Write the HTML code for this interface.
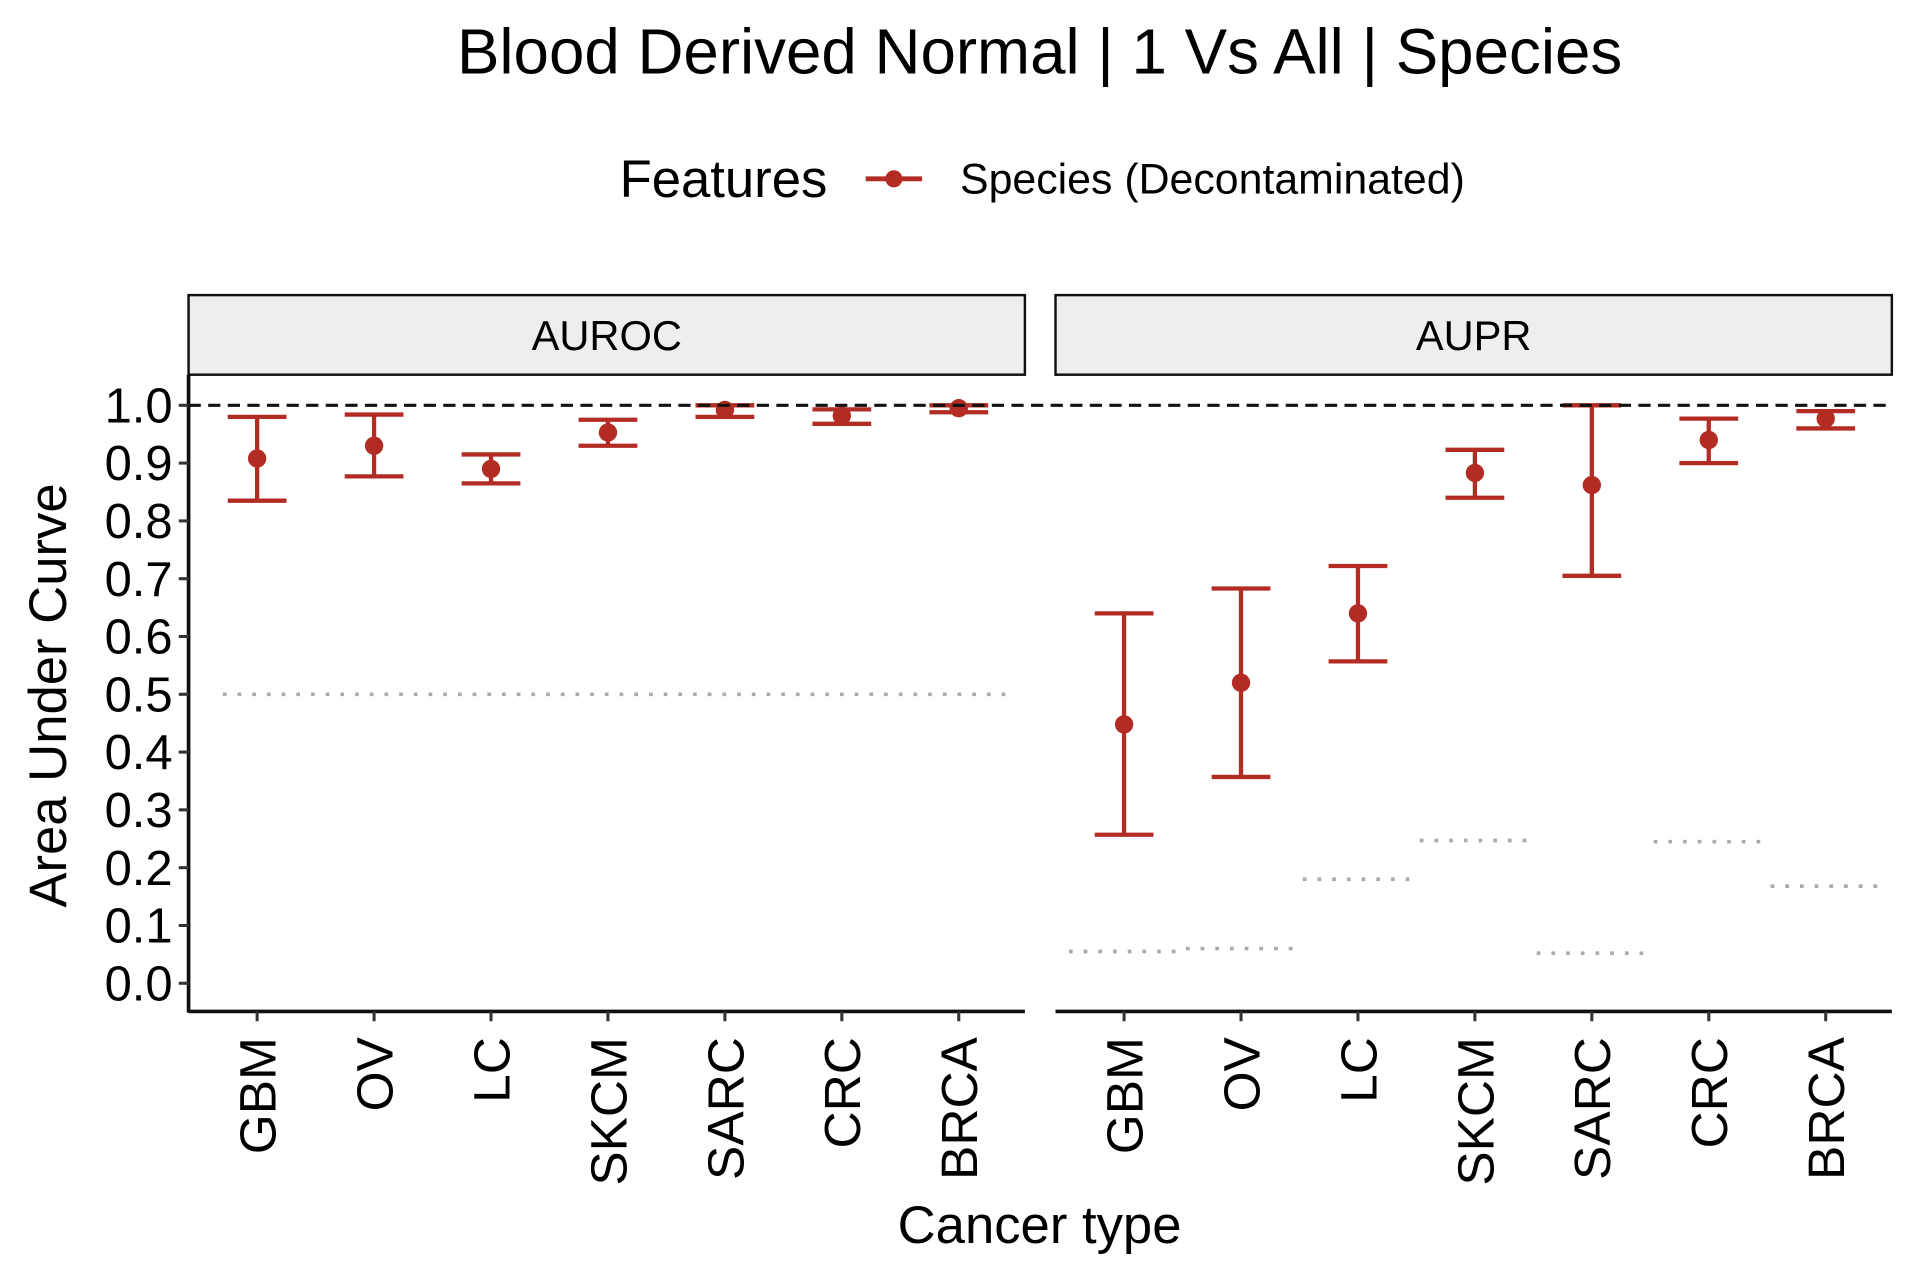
<!DOCTYPE html>
<html><head><meta charset="utf-8"><style>body{margin:0;background:#fff}svg{display:block}text{font-family:"Liberation Sans",Arial,sans-serif}</style></head>
<body>
<svg id="chart" width="1920" height="1280" viewBox="0 0 1568 1045.33" xmlns="http://www.w3.org/2000/svg">
<text x="849" y="60" font-size="52" text-anchor="middle">Blood Derived Normal | 1 Vs All | Species</text>
<g>
<text x="506" y="161" font-size="43">Features</text>
<line x1="707" y1="146" x2="753" y2="146" stroke="#B22C24" stroke-width="4"/>
<circle cx="730" cy="146" r="7" fill="#B22C24"/>
<text x="784" y="158" font-size="35">Species (Decontaminated)</text>
</g>
<g id="panels"></g>
<text transform="translate(54,568) rotate(-90)" font-size="43" text-anchor="middle">Area Under Curve</text>
<text x="849" y="1015" font-size="43" text-anchor="middle">Cancer type</text>
</svg>
<script>
const categories = ["GBM","OV","LC","SKCM","SARC","CRC","BRCA"];
const panelNames = ["AUROC","AUPR"];
const aurocMean = [0.908,0.930,0.890,0.953,0.992,0.982,0.995];
const aurocLow  = [0.835,0.877,0.865,0.930,0.980,0.968,0.988];
const aurocHigh = [0.980,0.984,0.915,0.975,1.000,0.993,1.000];
const auprMean = [0.448,0.520,0.640,0.883,0.862,0.940,0.977];
const auprLow  = [0.257,0.357,0.557,0.840,0.705,0.900,0.960];
const auprHigh = [0.640,0.683,0.722,0.923,1.000,0.977,0.990];
const aurocBaseline = [0.5,0.5,0.5,0.5,0.5,0.5,0.5];
const auprBaseline = [0.055,0.060,0.180,0.247,0.052,0.245,0.168];
const yTicks = [0,0.1,0.2,0.3,0.4,0.5,0.6,0.7,0.8,0.9,1.0];

const NS="http://www.w3.org/2000/svg";
const g=document.getElementById('panels');
const RED="#B22C24";
function el(tag,attrs,parent){const e=document.createElementNS(NS,tag);for(const k in attrs)e.setAttribute(k,attrs[k]);(parent||g).appendChild(e);return e;}
const y=v=>803-(v)*472;
const panelX=[154,862], panelW=683;
const x=(p,i)=>panelX[p]+56+i*95.5;
const series=[[aurocMean,aurocLow,aurocHigh,aurocBaseline],[auprMean,auprLow,auprHigh,auprBaseline]];

for(let p=0;p<2;p++){
  const px=panelX[p];
  const strip=el('rect',{x:px,y:241,width:panelW,height:65,fill:"#EEEEEE",stroke:"#111",'stroke-width':2});
  
  
  const st=el('text',{x:px+panelW/2,y:286,'font-size':34,'text-anchor':'middle'});
  st.textContent=panelNames[p];
  
  
  const ax=el('line',{x1:px,y1:826,x2:px+panelW,y2:826,stroke:"#111",'stroke-width':3});
  
  
  const [m,lo,hi,base]=series[p];
  if(p===0){
    const bl=el('line',{x1:x(0,0)-28,y1:y(base[0]),x2:x(0,6)+40,y2:y(base[0]),stroke:"#AAAAAA",'stroke-width':3,'stroke-dasharray':'3,9'});
    
    
  } else {
    categories.forEach((c,i)=>{
      const bl=el('line',{x1:x(p,i)-45,y1:y(base[i]),x2:x(p,i)+45,y2:y(base[i]),stroke:"#AAAAAA",'stroke-width':3,'stroke-dasharray':'3,9'});
      
      
    });
  }
  categories.forEach((c,i)=>{
    const cx=x(p,i);
    const tk=el('line',{x1:cx,y1:826,x2:cx,y2:834,stroke:"#333",'stroke-width':2.5});
    
    
    const lb=el('text',{transform:`translate(${cx+15},847) rotate(-90)`,'font-size':42,'text-anchor':'end'});
    lb.textContent=c;
    
    
    const eb=el('path',{d:`M${cx-24},${y(hi[i])}H${cx+24}M${cx},${y(hi[i])}V${y(lo[i])}M${cx-24},${y(lo[i])}H${cx+24}`,stroke:RED,'stroke-width':3.5,fill:"none"});
    
    
    const pt=el('circle',{cx:cx,cy:y(m[i]),r:7.5,fill:RED});
    
    
  });
}
const ref=el('line',{x1:154,y1:y(1),x2:1545,y2:y(1),stroke:"#111",'stroke-width':2.5,'stroke-dasharray':'10,6'});


const yax=el('line',{x1:154,y1:306,x2:154,y2:827,stroke:"#111",'stroke-width':3});


yTicks.forEach(v=>{
  const t=el('line',{x1:146,y1:y(v),x2:154,y2:y(v),stroke:"#333",'stroke-width':2.5});
  
  
  const l=el('text',{x:141,y:y(v)+14,'font-size':40,'text-anchor':'end'});
  l.textContent=v.toFixed(1);
  
  
});
</script>
</body></html>
